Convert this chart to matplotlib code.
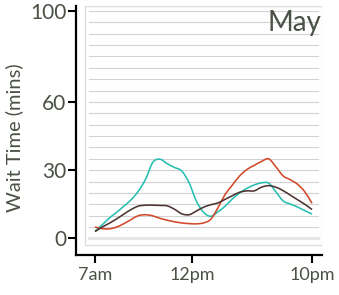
import numpy as np
import matplotlib
matplotlib.use("Agg")
import matplotlib.pyplot as plt
from matplotlib.patches import Rectangle, PathPatch
from matplotlib.path import Path

plt.rcParams['font.family'] = ['Lato', 'DejaVu Sans']

# half-hour steps from 7am to 10pm
hours = np.arange(7, 22.01, 0.5)

teal = [3.2, 6.0, 9.0, 11.5, 14.2, 17.0, 20.8, 26.1, 33.5, 34.8, 32.8,
        31.2, 29.6, 24.5, 16.5, 11.5, 9.7, 11.7, 14.2, 17.4, 20.0, 22.0,
        23.5, 24.4, 24.3, 20.5, 16.5, 15.1, 13.8, 12.2, 10.7]
brown = [3.0, 5.0, 6.7, 8.6, 10.7, 12.7, 14.2, 14.6, 14.6, 14.5, 14.3,
         12.8, 10.8, 10.4, 12.0, 13.7, 14.8, 15.6, 17.2, 18.8, 20.3, 20.9,
         20.9, 22.5, 23.2, 22.5, 21.0, 19.0, 17.0, 15.0, 12.7]
red = [5.0, 4.3, 4.2, 5.0, 6.5, 8.3, 10.0, 10.4, 9.9, 8.8, 8.0,
       7.3, 6.8, 6.5, 6.4, 6.8, 8.4, 13.5, 19.4, 23.5, 27.5, 30.3,
       32.1, 33.8, 35.0, 31.5, 27.5, 25.8, 23.8, 20.5, 15.4]

xtick_pos = [7, 13.7, 22]
xtick_labels = ['7am', '12pm', '10pm']
ytick_pos = [0, 30, 60, 100]
grid_vals = np.arange(0, 101, 5)

text_col = '#4a5145'


def smooth_path(x, y):
    # catmull-rom through the points, handed to matplotlib as cubic beziers
    p = np.column_stack([x, y]).astype(float)
    ext = np.vstack([p[0], p, p[-1]])
    verts = [p[0]]
    codes = [Path.MOVETO]
    for i in range(len(p) - 1):
        p0, p1, p2, p3 = ext[i], ext[i + 1], ext[i + 2], ext[i + 3]
        verts += [p1 + (p2 - p0) / 6, p2 - (p3 - p1) / 6, p2]
        codes += [Path.CURVE4] * 3
    return Path(verts, codes)


fig = plt.figure(figsize=(3.39, 2.95), dpi=100)
ax = fig.add_axes([0.2242, 0.1356, 0.7257, 0.8441])
ax.set_xlim(5.687, 22.69)
ax.set_ylim(-7.3, 102.2)

# light frame and horizontal guide lines
ax.add_patch(Rectangle((0.0366, 0.0402), 0.962, 0.958, transform=ax.transAxes,
                       fill=False, edgecolor='#dddddd', linewidth=1.0, zorder=0))
for g in grid_vals:
    if g == 0:
        ax.axhline(g, xmin=0.053, xmax=0.984, color='#e6e6e6', linewidth=2.2, zorder=1)
    else:
        ax.axhline(g, xmin=0.053, xmax=0.984, color='#d2d2d2', linewidth=0.8, zorder=1)

for series, col, z in [(teal, '#27bfb1', 3), (red, '#d24a2b', 3), (brown, '#4b3431', 4)]:
    ax.add_patch(PathPatch(smooth_path(hours, series), fill=False, edgecolor=col,
                           linewidth=1.15, zorder=z))

ax.text(0.998, 0.985, 'May', transform=ax.transAxes, ha='right', va='top',
        fontsize=20, color=text_col)

for s in ['top', 'right']:
    ax.spines[s].set_visible(False)
for s in ['left', 'bottom']:
    ax.spines[s].set_linewidth(1.6)
    ax.spines[s].set_color('black')

ax.set_xticks(xtick_pos)
ax.set_xticklabels(xtick_labels)
ax.set_yticks(ytick_pos)
ax.tick_params(axis='both', length=6, width=1.5, color='black', labelcolor=text_col)
ax.tick_params(axis='y', labelsize=15, pad=1)
ax.tick_params(axis='x', labelsize=13, pad=3)

ax.set_ylabel('Wait Time (mins)', fontsize=14.5, color=text_col)
ax.yaxis.set_label_coords(-0.215, 0.47)

fig.savefig('out.png', dpi=100)
